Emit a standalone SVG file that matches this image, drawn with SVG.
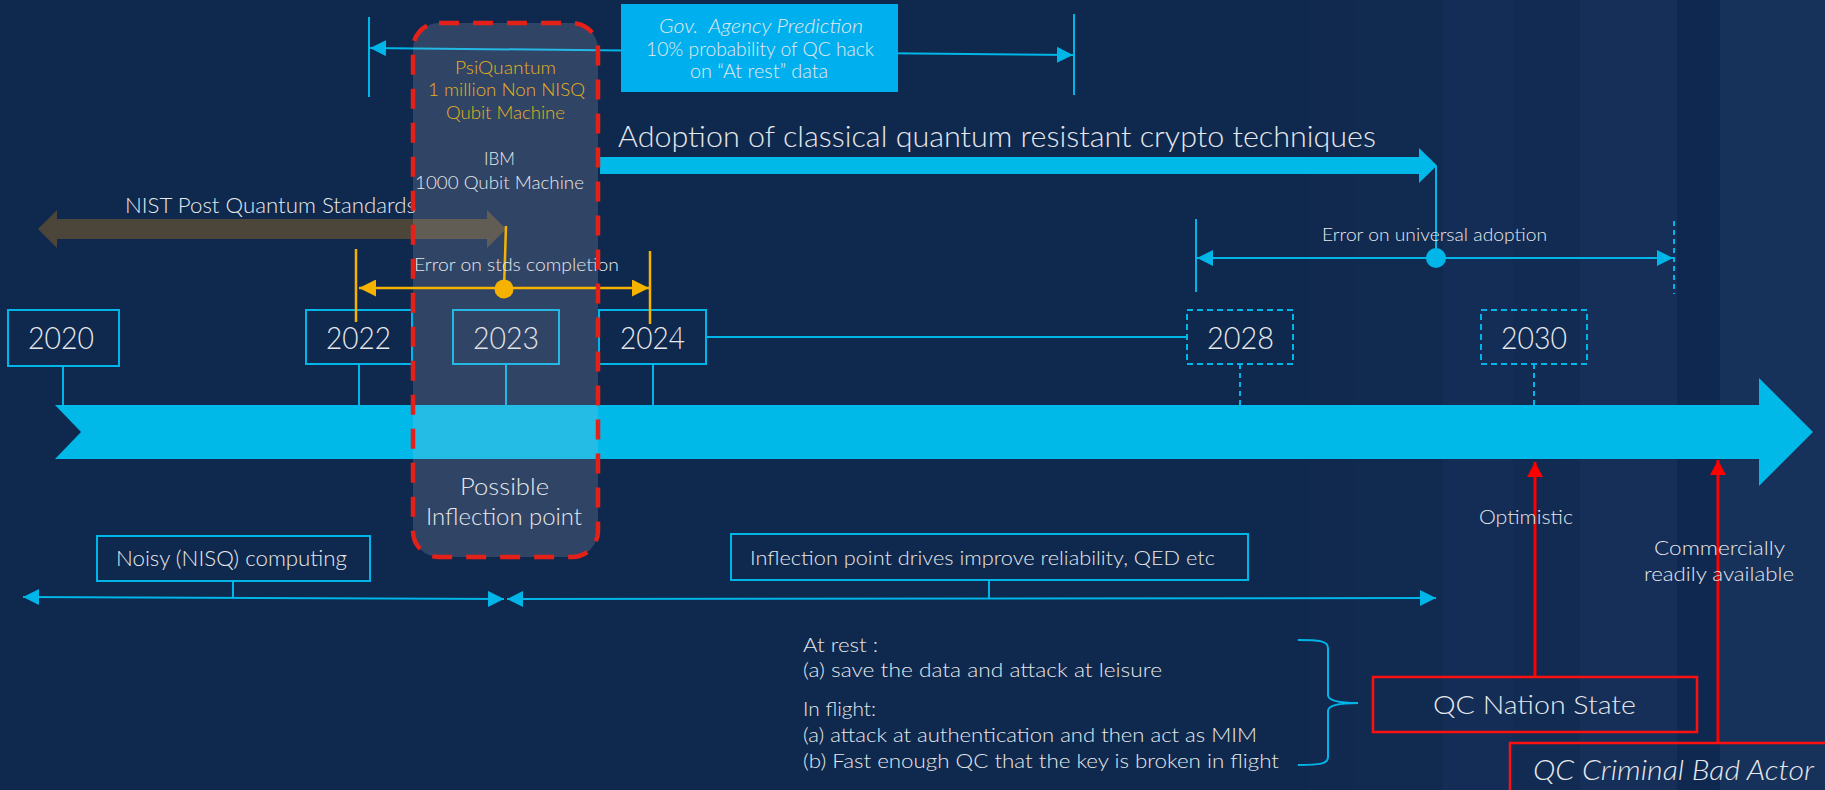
<svg xmlns="http://www.w3.org/2000/svg" width="1825" height="790" viewBox="0 0 1825 790">
<style>
text{font-family:Lato,"Open Sans","Liberation Sans",sans-serif;font-weight:300;fill:#E6E8EC}
.yr{font-size:31px;text-anchor:middle}
.c{text-anchor:middle}
.box{fill:none;stroke:#00B5E8;stroke-width:2}
.dbox{fill:none;stroke:#00B5E8;stroke-width:2;stroke-dasharray:6 4}
.ln{stroke:#00B5E8;stroke-width:2;fill:none}
.dln{stroke:#00B5E8;stroke-width:2;fill:none;stroke-dasharray:5 4}
.yl{stroke:#F5B300;stroke-width:2.5;fill:none}
.rl{stroke:#FF0000;stroke-width:3;fill:none}
.rbox{fill:none;stroke:#FF1010;stroke-width:2.5}
</style>
<defs>
<marker id="ac" markerUnits="userSpaceOnUse" markerWidth="16" markerHeight="16" refX="16" refY="8" orient="auto-start-reverse"><path d="M0,0 L16,8 L0,16 z" fill="#00B5E8"/></marker>
<marker id="ay" markerUnits="userSpaceOnUse" markerWidth="17" markerHeight="17" refX="17" refY="8.5" orient="auto-start-reverse"><path d="M0,0 L17,8.5 L0,17 z" fill="#F5B300"/></marker>
<marker id="ar" markerUnits="userSpaceOnUse" markerWidth="15" markerHeight="16" refX="15" refY="8" orient="auto"><path d="M0,0 L15,8 L0,16 z" fill="#FF0000"/></marker>
</defs>
<g id="background">
<rect x="0" y="0" width="1825" height="790" fill="#0F284D"/>
<rect x="1308" y="0" width="47" height="790" fill="#11294F"/>
<rect x="1355" y="0" width="88" height="790" fill="#102A50"/>
<rect x="1443" y="0" width="70" height="790" fill="#132D56"/>
<rect x="1513" y="0" width="67" height="790" fill="#112B53"/>
<rect x="1580" y="0" width="97" height="790" fill="#152F59"/>
<rect x="1677" y="0" width="43" height="790" fill="#0F2850"/>
<rect x="1720" y="0" width="105" height="790" fill="#16315A"/>
</g>
<g id="connectors">
<line class="ln" x1="369" y1="17" x2="369" y2="97"/>
<line class="ln" x1="1074" y1="14" x2="1074" y2="95"/>
<line class="ln" x1="370" y1="48" x2="1073" y2="55" marker-start="url(#ac)" marker-end="url(#ac)"/>
<line class="ln" x1="1436" y1="166" x2="1436" y2="258"/>
<line class="ln" x1="1197" y1="258" x2="1673" y2="258" marker-start="url(#ac)" marker-end="url(#ac)"/>
<line class="ln" x1="1196" y1="219" x2="1196" y2="292"/>
<line class="dln" x1="1674" y1="221" x2="1674" y2="294"/>
<circle cx="1436" cy="258" r="10" fill="#00B5E8"/>
<line class="ln" x1="63" y1="366" x2="63" y2="406"/>
<line class="ln" x1="359" y1="364" x2="359" y2="406"/>
<line class="ln" x1="506" y1="364" x2="506" y2="406"/>
<line class="ln" x1="653" y1="364" x2="653" y2="406"/>
<line class="dln" x1="1240" y1="364" x2="1240" y2="406"/>
<line class="dln" x1="1534" y1="364" x2="1534" y2="406"/>
<line class="ln" x1="706" y1="337" x2="1187" y2="337"/>
<line class="ln" x1="23" y1="597" x2="504" y2="599" marker-start="url(#ac)" marker-end="url(#ac)"/>
<line class="ln" x1="507" y1="599" x2="1436" y2="598" marker-start="url(#ac)" marker-end="url(#ac)"/>
<line class="ln" x1="233" y1="581" x2="233" y2="598"/>
<line class="ln" x1="989" y1="580" x2="989" y2="598"/>
<path class="ln" d="M1298,640 C1320,640 1328,641 1328,648 L1328,695 C1328,701 1340,703 1358,703 C1340,703 1328,705 1328,711 L1328,757 C1328,764 1320,765 1298,765"/>
<line class="rl" x1="1535" y1="677" x2="1535" y2="462" marker-end="url(#ar)"/>
<line class="rl" x1="1718" y1="743" x2="1718" y2="460" marker-end="url(#ar)"/>
</g>
<g id="gov-prediction">
<rect x="621" y="4" width="277" height="88" fill="#00B0EE"/>
<text x="761" y="33" class="c" font-size="19" font-style="italic" xml:space="preserve" textLength="204" lengthAdjust="spacingAndGlyphs">Gov.  Agency Prediction</text>
<text x="760" y="56" class="c" font-size="19" textLength="228" lengthAdjust="spacingAndGlyphs">10% probability of QC hack</text>
<text x="759" y="78" class="c" font-size="19" textLength="138" lengthAdjust="spacingAndGlyphs">on “At rest” data</text>
</g>
<g id="nist-standards">
<polygon points="38,229 57,210 57,219 487,219 487,210 506,229 487,248 487,239 57,239 57,248" fill="#4B4639"/>
<text x="270.5" y="213" class="c" font-size="22" textLength="291" lengthAdjust="spacingAndGlyphs">NIST Post Quantum Standards</text>
</g>
<g id="adoption">
<polygon points="600,157 1419,157 1419,148 1437,165.5 1419,183 1419,174 600,174" fill="#00B9E8"/>
<text x="618" y="147" font-size="29" textLength="758" lengthAdjust="spacingAndGlyphs">Adoption of classical quantum resistant crypto techniques</text>
<text x="1434.5" y="241" class="c" font-size="18" textLength="225" lengthAdjust="spacingAndGlyphs">Error on universal adoption</text>
</g>
<g id="timeline">
<polygon points="55,405 1759,405 1759,378 1813,432 1759,486 1759,459 55,459 81,432" fill="#00B9E8"/>
</g>
<g id="year-2020"><rect class="box" x="8" y="310" width="111" height="56"/><text x="61" y="349" class="yr" textLength="66" lengthAdjust="spacingAndGlyphs">2020</text></g>
<g id="year-2022"><rect class="box" x="306" y="310" width="106" height="54"/><text x="358.5" y="349" class="yr" textLength="65" lengthAdjust="spacingAndGlyphs">2022</text></g>
<g id="year-2023"><rect class="box" x="453" y="310" width="106" height="54"/><text x="506" y="349" class="yr" textLength="66" lengthAdjust="spacingAndGlyphs">2023</text></g>
<g id="year-2024"><rect class="box" x="599" y="310" width="107" height="54"/><text x="652.5" y="349" class="yr" textLength="65" lengthAdjust="spacingAndGlyphs">2024</text></g>
<g id="year-2028"><rect class="dbox" x="1187" y="310" width="106" height="54"/><text x="1240.5" y="349" class="yr" textLength="67" lengthAdjust="spacingAndGlyphs">2028</text></g>
<g id="year-2030"><rect class="dbox" x="1481" y="310" width="106" height="54"/><text x="1534" y="349" class="yr" textLength="66" lengthAdjust="spacingAndGlyphs">2030</text></g>
<g id="inflection-zone">
<rect x="413" y="23" width="185" height="534" rx="26" fill="#C8C8D2" fill-opacity="0.18"/>
<g id="stds-error">
<line class="yl" x1="359" y1="288" x2="649" y2="288" marker-start="url(#ay)" marker-end="url(#ay)"/>
<line class="yl" x1="356" y1="249" x2="356" y2="322"/>
<line class="yl" x1="650" y1="251" x2="650" y2="324"/>
<line class="yl" x1="504" y1="289" x2="506" y2="226"/>
<circle cx="504" cy="289" r="9.5" fill="#F5B300"/>
<text x="516.5" y="271" class="c" font-size="18.5" textLength="205" lengthAdjust="spacingAndGlyphs">Error on stds completion</text>
</g>
<rect x="413" y="23" width="185" height="534" rx="26" fill="none" stroke="#E32119" stroke-width="4.5" stroke-dasharray="20 14"/>
<text x="505.5" y="74" class="c" font-size="18.5" style="fill:#E8B020" textLength="101" lengthAdjust="spacingAndGlyphs">PsiQuantum</text>
<text x="506.5" y="96" class="c" font-size="18.5" style="fill:#E8B020" textLength="157" lengthAdjust="spacingAndGlyphs">1 million Non NISQ</text>
<text x="505.5" y="119" class="c" font-size="18.5" style="fill:#E8B020" textLength="119" lengthAdjust="spacingAndGlyphs">Qubit Machine</text>
<text x="499.5" y="165" class="c" font-size="18.5" textLength="31" lengthAdjust="spacingAndGlyphs">IBM</text>
<text x="499.5" y="189" class="c" font-size="18.5" textLength="169" lengthAdjust="spacingAndGlyphs">1000 Qubit Machine</text>
<text x="504.5" y="495" class="c" font-size="23" textLength="89" lengthAdjust="spacingAndGlyphs">Possible</text>
<text x="504" y="525" class="c" font-size="23" textLength="156" lengthAdjust="spacingAndGlyphs">Inflection point</text>
</g>
<g id="noisy">
<rect class="box" x="97" y="536" width="273" height="45"/>
<text x="231.5" y="566" class="c" font-size="21" textLength="231" lengthAdjust="spacingAndGlyphs">Noisy (NISQ) computing</text>
</g>
<g id="inflection-drives">
<rect class="box" x="731" y="534" width="517" height="46"/>
<text x="982.5" y="565" class="c" font-size="19.5" textLength="465" lengthAdjust="spacingAndGlyphs">Inflection point drives improve reliability, QED etc</text>
</g>
<g id="attack-notes">
<text x="803" y="652" font-size="19.5" textLength="75" lengthAdjust="spacingAndGlyphs">At rest :</text>
<text x="803" y="677" font-size="19.5" textLength="359" lengthAdjust="spacingAndGlyphs">(a) save the data and attack at leisure</text>
<text x="803" y="716" font-size="19.5" textLength="73" lengthAdjust="spacingAndGlyphs">In flight:</text>
<text x="803" y="742" font-size="19.5" textLength="454" lengthAdjust="spacingAndGlyphs">(a) attack at authentication and then act as MIM</text>
<text x="803" y="768" font-size="19.5" textLength="476" lengthAdjust="spacingAndGlyphs">(b) Fast enough QC that the key is broken in flight</text>
</g>
<g id="optimistic"><text x="1526" y="524" class="c" font-size="19" textLength="94" lengthAdjust="spacingAndGlyphs">Optimistic</text></g>
<g id="commercial"><text x="1719.5" y="555" class="c" font-size="20" textLength="131" lengthAdjust="spacingAndGlyphs">Commercially</text><text x="1719" y="581" class="c" font-size="20" textLength="150" lengthAdjust="spacingAndGlyphs">readily available</text></g>
<g id="nation-state"><rect class="rbox" x="1373" y="677" width="324" height="55"/><text x="1534.5" y="714" class="c" font-size="26" textLength="203" lengthAdjust="spacingAndGlyphs">QC Nation State</text></g>
<g id="criminal"><rect class="rbox" x="1510" y="743" width="340" height="70"/><text x="1533" y="780" font-size="28" font-style="italic" textLength="281" lengthAdjust="spacingAndGlyphs">QC Criminal Bad Actor</text></g>
</svg>
